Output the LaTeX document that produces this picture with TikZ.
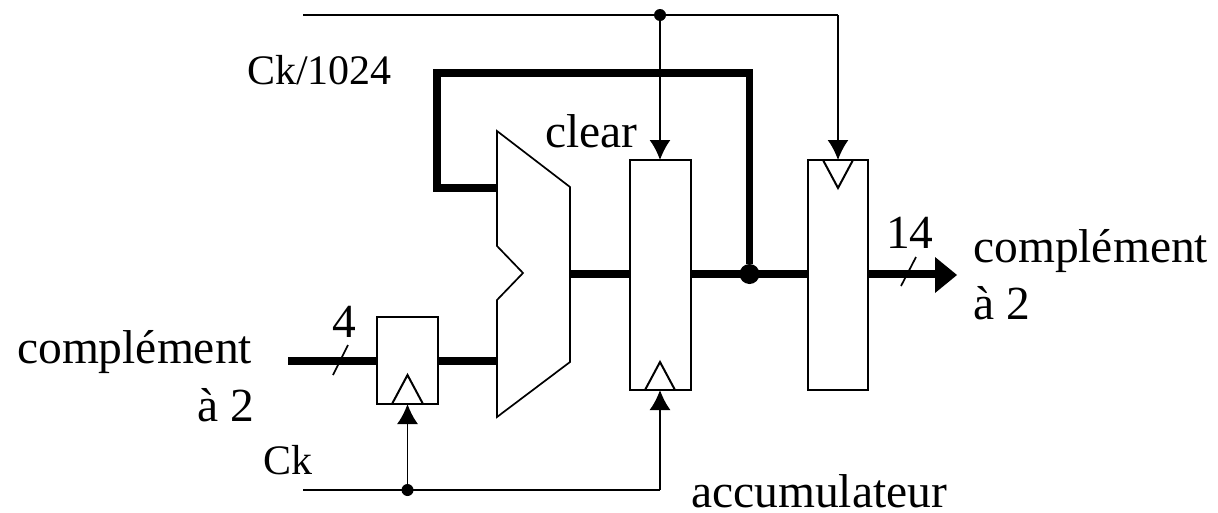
\documentclass[tikz,border=0pt]{standalone}
\usepackage{fontspec}
\setmainfont{Liberation Serif}
\usetikzlibrary{arrows.meta}
\tikzset{
 thin line/.style={line width=1.7pt,draw=black},
 clock/.style={line width=2pt,draw=black},
 bus/.style={line width=7.5pt,draw=black},
 ctrl/.style={line width=1.7pt,-{Latex[length=20pt,width=21pt]}},
 lab/.style={inner sep=0pt,font=\fontsize{47.5pt}{54pt}\selectfont,anchor=base west},
 smalllab/.style={inner sep=0pt,font=\fontsize{42pt}{48pt}\selectfont,anchor=base west},
 dot/.style={circle,fill=black,inner sep=0pt,minimum size=#1},
 reg/.style={draw=black,line width=1.7pt,fill=white,inner sep=0pt,outer sep=0pt,anchor=north west}
}
\begin{document}
\begin{tikzpicture}[x=1pt,y=-1pt,line join=miter]
\useasboundingbox (0,0) rectangle (1218,512);
% coordinates
\coordinate (topL) at (303,15);
\coordinate (topJ) at (660,15);
\coordinate (topR) at (838,15);
\coordinate (botL) at (303,490);
\coordinate (botJ) at (407.5,490);
\coordinate (botR) at (660,490);
\coordinate (inL) at (288,361);
\coordinate (outR) at (935,274);
\coordinate (fbA) at (437,188);
\coordinate (fbB) at (437,73);
\coordinate (fbC) at (749.5,73);
\coordinate (muxIn) at (497,361);
\coordinate (muxFb) at (497,188);
\coordinate (muxOut) at (570,274);
% registers
\node[reg,minimum width=61pt,minimum height=87pt] (r1) at (377,317) {};
\node[reg,minimum width=61pt,minimum height=230pt] (acc) at (630,160) {};
\node[reg,minimum width=60pt,minimum height=230pt] (r3) at (808,160) {};
\node[dot=20pt] (j) at (749.5,274) {};
% bus lines
\draw[bus] (inL) -- (r1.west |- inL);
\draw[bus] (r1.east |- inL) -- (muxIn);
\draw[bus] (muxOut) -- (acc.west |- muxOut);
\draw[bus] (acc.east |- muxOut) -- (r3.west |- muxOut);
\draw[bus] (muxFb) -- (fbA) -- (fbB) -- (fbC) -- (j);
\draw[bus] (r3.east |- muxOut) -- (outR);
% output arrowhead
\fill (957,275) -- (935,257) -- (935,293) -- cycle;
% mux
\draw[thin line,fill=white] (497,131) -- (570,187) -- (570,362) -- (497,417) -- (497,300) -- (523,273) -- (497,246) -- cycle;
% clock triangles
\draw[clock] (392,404) -- (407.5,375) -- (423,404);
\draw[clock] (645,390) -- (660,362) -- (675,390);
\draw[clock] (823,160) -- (838,188) -- (853,160);
% controls
\draw[thin line] (topL) -- (topR);
\draw[ctrl] (topJ) -- (acc.north -| topJ);
\draw[ctrl] (topR) -- (r3.north -| topR);
\node[dot=12pt] (tj) at (topJ) {};
\draw[thin line] (botL) -- (botR);
\draw[ctrl] (botJ) -- (r1.south -| botJ);
\draw[ctrl] (botR) -- (acc.south -| botR);
\node[dot=12pt] (bj) at (botJ) {};
% slashes
\draw[thin line] (333,375) -- (348,345);
\draw[thin line] (901,286) -- (916,257);
% labels
\node[smalllab] (lck1024) at (247,84) {Ck/1024};
\node[lab] (lclear) at (545,147) {clear};
\node[lab] (l4) at (332,337) {4};
\node[lab] (l14) at (886,248) {14};
\node[lab] (lcr) at (973,262) {complément};
\node[lab] (la2r) at (973,319) {à 2};
\node[lab] (lcl) at (17,363) {complément};
\node[lab] (la2l) at (197,421) {à 2};
\node[smalllab] (lck) at (263,474) {Ck};
\node[lab] (lacc) at (691,507) {accumulateur};
\end{tikzpicture}
\end{document}
